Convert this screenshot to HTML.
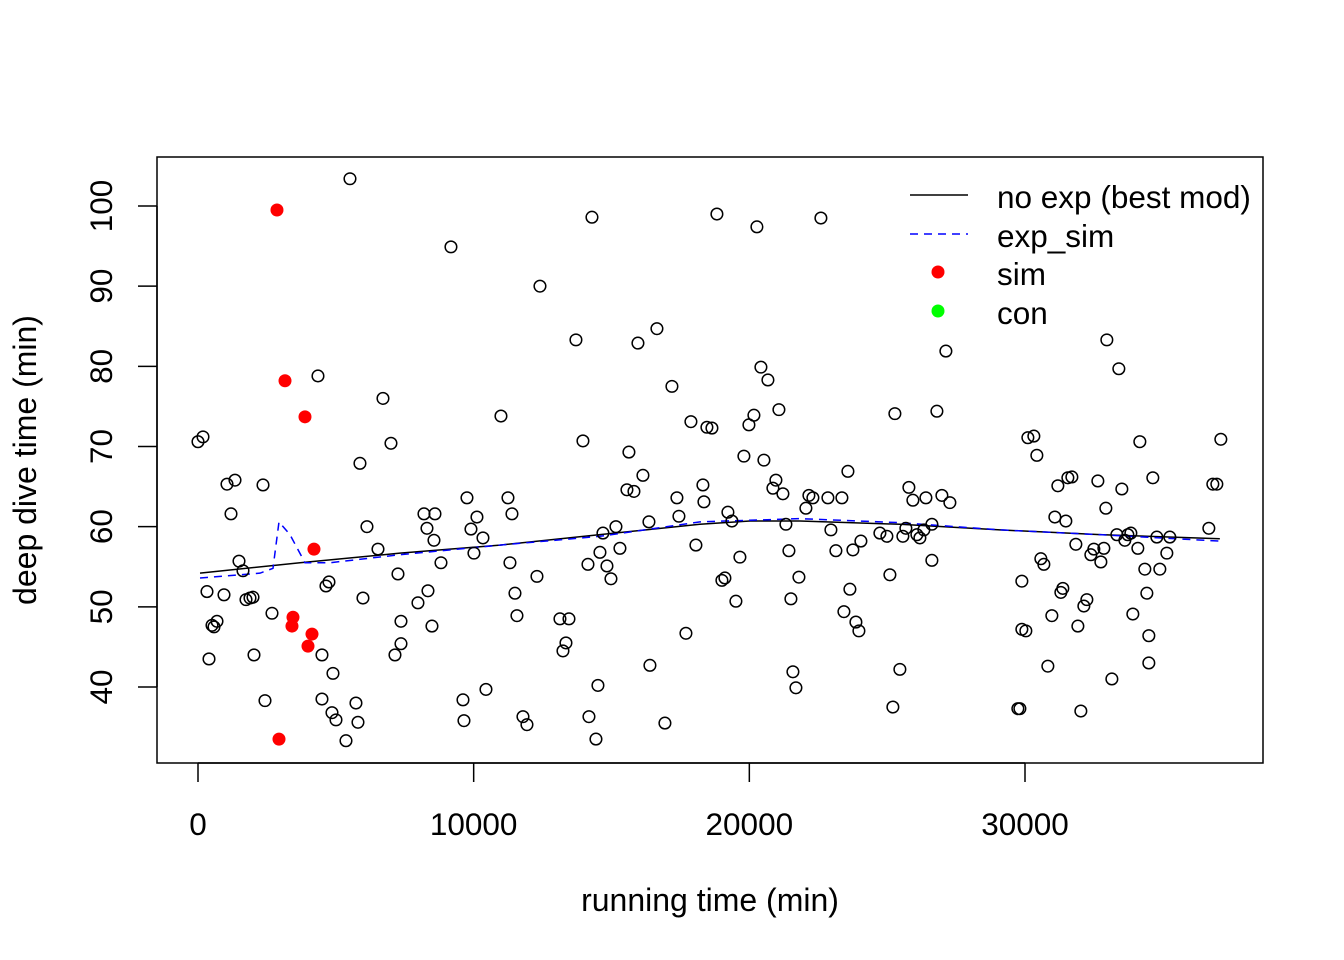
<!DOCTYPE html>
<html><head><meta charset="utf-8">
<style>
html,body{margin:0;padding:0;background:#fff;}
svg{display:block;font-family:"Liberation Sans",Arial,sans-serif;}
</style></head>
<body>
<svg id="chart" width="1344" height="960" viewBox="0 0 1344 960" xmlns="http://www.w3.org/2000/svg">
<rect x="157" y="157" width="1106" height="606" fill="none" stroke="#000" stroke-width="1.5"/>
<g id="xaxis"></g>
<g id="yaxis"></g>
<text x="710" y="911" font-size="32" text-anchor="middle">running time (min)</text>
<text transform="translate(36,460) rotate(-90)" font-size="32" text-anchor="middle">deep dive time (min)</text>
<g id="lines"></g>
<g id="pts"></g>
<g>
<line x1="910" y1="195" x2="968" y2="195" stroke="#000" stroke-width="1.5"/>
<line x1="910" y1="234" x2="968" y2="234" stroke="#00f" stroke-width="1.5" stroke-dasharray="8,6"/>
<circle cx="938" cy="272" r="6.5" fill="#f00"/>
<circle cx="938" cy="311" r="6.5" fill="#0f0"/>
<text x="997" y="208" font-size="31.5">no exp (best mod)</text>
<text x="997" y="247" font-size="31.5">exp_sim</text>
<text x="997" y="285" font-size="31.5">sim</text>
<text x="997" y="324" font-size="31.5">con</text>
</g>
</svg>
<script>
const xTicks=[0,10000,20000,30000];
const xTickLabels=["0","10000","20000","30000"];
const yTicks=[40,50,60,70,80,90,100];
const yTickLabels=["40","50","60","70","80","90","100"];
const obsX=[0,181,326,399,508,580,689,943,1052,1197,1342,1487,1632,1741,1886,1995,2031,2358,2430,2684,4352,4497,4497,4642,4751,4860,4896,5005,5368,5513,5730,5803,5875,5984,6129,6529,6710,7000,7145,7254,7363,7363,7979,8197,8306,8342,8487,8596,8560,8814,9176,9612,9648,9757,9902,10010,10119,10337,10446,10990,11244,11316,11389,11498,11570,11788,11933,12296,12405,13130,13239,13348,13457,13710,13964,14146,14182,14291,14436,14508,14581,14690,14835,14980,15161,15306,15560,15632,15814,15959,16140,16358,16394,16648,16938,17192,17373,17446,17700,17881,18062,18316,18353,18461,18643,18824,19005,19114,19223,19368,19513,19658,19803,19985,20166,20275,20420,20529,20674,20855,20964,21073,21218,21327,21436,21508,21581,21690,21799,22052,22161,22306,22596,22850,22959,23140,23358,23431,23576,23648,23757,23866,23975,24047,24736,24990,25099,25207,25280,25461,25570,25679,25788,25933,26078,26187,26332,26405,26622,26622,26804,26985,27130,27275,29814,29886,29886,30031,30104,30321,30430,30575,30684,30829,30974,31083,31192,31301,31373,31482,31555,31700,31845,31918,32026,32135,32244,32389,32498,32643,32752,32861,32933,32969,33151,33332,33404,33513,33622,33731,33840,33912,34094,34166,34347,34420,34492,34492,34637,34782,34891,35145,35254,36669,36814,36959,37104,29741];
const obsY=[70.6,71.2,51.9,43.5,47.7,47.5,48.2,51.5,65.3,61.6,65.8,55.7,54.5,50.9,51.1,51.2,44.0,65.2,38.3,49.2,78.8,44.0,38.5,52.6,53.1,36.8,41.7,35.9,33.3,103.4,38.0,35.6,67.9,51.1,60.0,57.2,76.0,70.4,44.0,54.1,48.2,45.4,50.5,61.6,59.8,52.0,47.6,61.6,58.3,55.5,94.9,38.4,35.8,63.6,59.7,56.7,61.2,58.6,39.7,73.8,63.6,55.5,61.6,51.7,48.9,36.3,35.3,53.8,90.0,48.5,44.5,45.5,48.5,83.3,70.7,55.3,36.3,98.6,33.5,40.2,56.8,59.2,55.1,53.5,60.0,57.3,64.6,69.3,64.4,82.9,66.4,60.6,42.7,84.7,35.5,77.5,63.6,61.3,46.7,73.1,57.7,65.2,63.1,72.4,72.3,99.0,53.3,53.6,61.8,60.7,50.7,56.2,68.8,72.7,73.9,97.4,79.9,68.3,78.3,64.8,65.8,74.6,64.1,60.3,57.0,51.0,41.9,39.9,53.7,62.3,63.9,63.6,98.5,63.6,59.6,57.0,63.6,49.4,66.9,52.2,57.1,48.1,47.0,58.2,59.2,58.8,54.0,37.5,74.1,42.2,58.8,59.8,64.9,63.3,59.0,58.6,59.6,63.6,55.8,60.3,74.4,63.9,81.9,63.0,37.3,53.2,47.2,47.0,71.1,71.3,68.9,56.0,55.3,42.6,48.9,61.2,65.1,51.8,52.3,60.7,66.1,66.2,57.8,47.6,37.0,50.1,50.9,56.5,57.2,65.7,55.6,57.3,62.3,83.3,41.0,59.0,79.7,64.7,58.3,59.0,59.2,49.1,57.3,70.6,54.7,51.7,46.4,43.0,66.1,58.7,54.7,56.7,58.7,59.8,65.3,65.3,70.9,37.3];
const simX=[2865,3156,3881,3446,3409,4207,4135,3990,2938];
const simY=[99.5,78.2,73.7,48.7,47.6,57.2,46.6,45.1,33.5];
const noExpX=[73,3700,7326,10953,14581,18207,20020,21834,25461,29088,32715,37068];
const noExpY=[54.2,55.5,56.7,57.7,59.0,60.3,60.7,60.7,60.3,59.6,59.0,58.5];
const expSimX=[73,2249,2720,2938,3337,3881,4788,7326,10953,14581,18207,21834,25461,29088,32715,37068];
const expSimY=[53.6,54.2,54.8,60.6,59.0,55.5,55.5,56.5,57.7,58.8,60.6,61.0,60.5,59.6,59.0,58.2];

const NS="http://www.w3.org/2000/svg";
function sx(v){return 198+(v-0)*(1025-198)/30000;}
function sy(v){return 687-(v-40)*(687-206)/60;}
function mk(tag,attrs,parent){const e=document.createElementNS(NS,tag);for(const k in attrs)e.setAttribute(k,attrs[k]);parent.appendChild(e);return e;}

const xa=document.getElementById('xaxis');
mk('line',{x1:sx(xTicks[0]),y1:763,x2:sx(xTicks[xTicks.length-1]),y2:763,stroke:'#000','stroke-width':1.5},xa);
xTicks.forEach((t,i)=>{
  const l=mk('line',{x1:sx(t),y1:763,x2:sx(t),y2:782,stroke:'#000','stroke-width':1.5},xa);
  
  
  const tx=mk('text',{x:sx(t),y:835,'font-size':31.5,'text-anchor':'middle'},xa);
  tx.textContent=xTickLabels[i];
  
  
});
const ya=document.getElementById('yaxis');
mk('line',{x1:157,y1:sy(yTicks[0]),x2:157,y2:sy(yTicks[yTicks.length-1]),stroke:'#000','stroke-width':1.5},ya);
yTicks.forEach((t,i)=>{
  const l=mk('line',{x1:138,y1:sy(t),x2:157,y2:sy(t),stroke:'#000','stroke-width':1.5},ya);
  
  
  const tx=mk('text',{transform:'translate(112,'+sy(t)+') rotate(-90)','font-size':31.5,'text-anchor':'middle'},ya);
  tx.textContent=yTickLabels[i];
  
  
});

const lg=document.getElementById('lines');
const p1=mk('polyline',{points:noExpX.map((x,i)=>sx(x)+','+sy(noExpY[i])).join(' '),fill:'none',stroke:'#000','stroke-width':1.5},lg);


const p2=mk('polyline',{points:expSimX.map((x,i)=>sx(x)+','+sy(expSimY[i])).join(' '),fill:'none',stroke:'#00f','stroke-width':1.5,'stroke-dasharray':'8,6'},lg);



const pg=document.getElementById('pts');
obsX.forEach((x,i)=>{
  const c=mk('circle',{cx:sx(x),cy:sy(obsY[i]),r:5.8,fill:'none',stroke:'#000','stroke-width':1.5},pg);
  
  
});
simX.forEach((x,i)=>{
  const c=mk('circle',{cx:sx(x),cy:sy(simY[i]),r:6.5,fill:'#f00'},pg);
  
  
});
</script>
</body></html>
